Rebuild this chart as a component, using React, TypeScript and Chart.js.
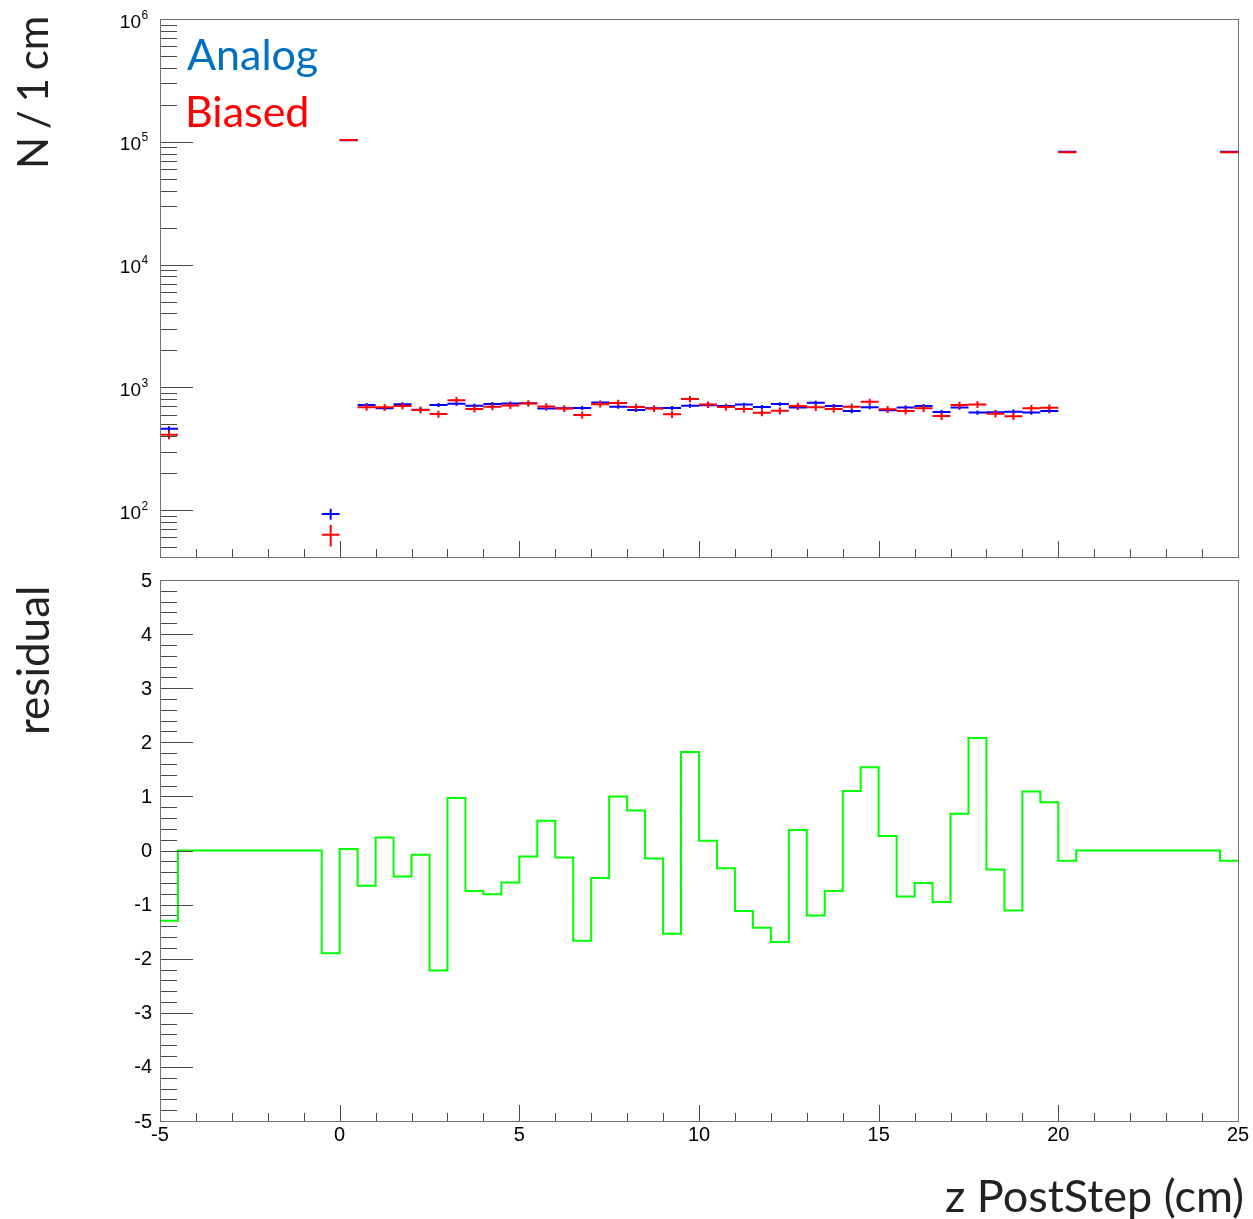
import React, { useEffect, useRef } from "react";
import { Chart, registerables } from "chart.js";

Chart.register(...registerables);

// ---------- data ----------
const BIN_WIDTH = 0.5;

// lower edges of the bins that carry markers in the top panel
const binLow = [
  -5, -0.5, 0, 0.5, 1, 1.5, 2, 2.5, 3, 3.5, 4, 4.5, 5, 5.5, 6, 6.5, 7, 7.5, 8, 8.5, 9, 9.5,
  10, 10.5, 11, 11.5, 12, 12.5, 13, 13.5, 14, 14.5, 15, 15.5, 16, 16.5, 17, 17.5, 18, 18.5,
  19, 19.5, 20, 24.5,
];

const analogCounts = [
  460, 93, 103000, 718, 676, 728, 658, 718, 736, 709, 732, 738, 743, 672, 676, 679, 752, 694,
  654, 676, 679, 708, 716, 705, 723, 692, 730, 684, 750, 705, 641, 688, 650, 685, 705, 630,
  684, 623, 628, 634, 623, 641, 83000, 83000,
];

const analogErrors = [
  21, 9.6, 320, 26.8, 26, 27, 25.7, 26.8, 27.1, 26.6, 27.1, 27.2, 27.3, 25.9, 26, 26.1, 27.4,
  26.3, 25.6, 26, 26.1, 26.6, 26.8, 26.6, 26.9, 26.3, 27, 26.2, 27.4, 26.6, 25.3, 26.2, 25.5,
  26.2, 26.6, 25.1, 26.2, 25, 25.1, 25.2, 25, 25.3, 288, 288,
];

const biasedCounts = [
  410, 63, 103500, 688, 688, 705, 654, 605, 786, 667, 694, 710, 740, 697, 672, 595, 729, 746,
  692, 672, 603, 803, 723, 690, 667, 622, 645, 704, 687, 665, 694, 762, 663, 643, 674, 584,
  718, 725, 610, 582, 675, 682, 82000, 82000,
];

const biasedErrors = [
  32, 12.5, 330, 44, 44, 45, 43, 41, 47, 43, 44, 44, 45, 44, 43, 41, 45, 46, 44, 43, 41, 47,
  45, 44, 43, 42, 43, 44, 44, 43, 44, 46, 43, 43, 44, 41, 45, 45, 42, 41, 44, 44, 290, 290,
];

// residual per 0.5 cm bin, from -5 to 25 (60 bins)
const residualValues = [
  -1.3, 0, 0, 0, 0, 0, 0, 0, 0, -1.9,
  0.03, -0.65, 0.24, -0.48, -0.08, -2.22, 0.97, -0.75, -0.81, -0.59,
  -0.11, 0.55, -0.13, -1.67, -0.51, 1.0, 0.74, -0.15, -1.54, 1.82,
  0.18, -0.33, -1.12, -1.43, -1.69, 0.38, -1.2, -0.75, 1.1, 1.54,
  0.27, -0.85, -0.6, -0.95, 0.68, 2.08, -0.35, -1.11, 1.09, 0.89,
  -0.19, 0, 0, 0, 0, 0, 0, 0, 0, -0.19,
];

const X_MIN = -5;
const X_MAX = 25;
const xTickValues = [-5, 0, 5, 10, 15, 20, 25];
const xTickLabels = ["-5", "0", "5", "10", "15", "20", "25"];
const logExponents = [2, 3, 4, 5, 6];
const residualTickValues = [5, 4, 3, 2, 1, 0, -1, -2, -3, -4, -5];
const residualTickLabels = ["5", "4", "3", "2", "1", "0", "-1", "-2", "-3", "-4", "-5"];

// ---------- styles ----------
const FRAME = "#707070";
const TICK = "#4a4a4a";
const LABEL_FONT = '"Liberation Sans", Arial, sans-serif';
const TITLE_FONT = 'Lato, "Open Sans", sans-serif';

const crisp = (v: number) => Math.round(v) + 0.5;

const rootAxes = {
  id: "rootAxes",
  afterDatasetsDraw(chart: any, _args: any, opts: any) {
    const { ctx, chartArea: a } = chart;
    const x = chart.scales.x;
    const y = chart.scales.y;
    ctx.save();
    ctx.lineWidth = 1;
    ctx.strokeStyle = TICK;
    ctx.beginPath();
    // x ticks (inside, from the bottom axis)
    for (let v = X_MIN; v <= X_MAX; v += 1) {
      const px = crisp(x.getPixelForValue(v));
      const len = v % 5 === 0 ? 16 : 8;
      ctx.moveTo(px, a.bottom);
      ctx.lineTo(px, a.bottom - len);
    }
    // y ticks (inside, from the left axis)
    if (opts.log) {
      for (const e of [1, 2, 3, 4, 5]) {
        for (let m = 2; m <= 9; m++) {
          const v = m * Math.pow(10, e);
          if (v < y.min || v > y.max) continue;
          const py = crisp(y.getPixelForValue(v));
          ctx.moveTo(a.left, py);
          ctx.lineTo(a.left + 17, py);
        }
      }
      for (const e of logExponents) {
        const py = crisp(y.getPixelForValue(Math.pow(10, e)));
        ctx.moveTo(a.left, py);
        ctx.lineTo(a.left + 33, py);
      }
    } else {
      for (let k = -25; k <= 25; k++) {
        const v = k / 5;
        const py = crisp(y.getPixelForValue(v));
        const len = k % 5 === 0 ? 33 : 17;
        ctx.moveTo(a.left, py);
        ctx.lineTo(a.left + len, py);
      }
    }
    ctx.stroke();

    // frame
    ctx.strokeStyle = FRAME;
    const l = Math.round(a.left), t = Math.round(a.top), r = Math.round(a.right), b = Math.round(a.bottom);
    ctx.strokeRect(l + 0.5, t + 0.5, r - l, b - t);

    // labels
    ctx.fillStyle = "#000";
    if (opts.log) {
      for (const e of logExponents) {
        const py = y.getPixelForValue(Math.pow(10, e));
        ctx.font = `19px ${LABEL_FONT}`;
        ctx.textAlign = "right";
        ctx.textBaseline = "alphabetic";
        ctx.fillText("10", a.left - 19, py + 8.5);
        ctx.font = `12px ${LABEL_FONT}`;
        ctx.textAlign = "left";
        ctx.fillText(String(e), a.left - 18.5, py - 0.5);
      }
    } else {
      ctx.font = `20px ${LABEL_FONT}`;
      ctx.textAlign = "right";
      ctx.textBaseline = "middle";
      residualTickValues.forEach((v, i) => {
        ctx.fillText(residualTickLabels[i], a.left - 8, y.getPixelForValue(v) + 1);
      });
    }
    if (opts.xLabels) {
      ctx.font = `20px ${LABEL_FONT}`;
      ctx.textAlign = "center";
      ctx.textBaseline = "top";
      xTickValues.forEach((v, i) => {
        ctx.fillText(xTickLabels[i], x.getPixelForValue(v), a.bottom + 4);
      });
    }
    ctx.restore();
  },
};

const errorCross = {
  id: "errorCross",
  afterDatasetsDraw(chart: any) {
    const { ctx } = chart;
    const x = chart.scales.x;
    const y = chart.scales.y;
    ctx.save();
    chart.data.datasets.forEach((ds: any, di: number) => {
      if (!ds.errors) return;
      const meta = chart.getDatasetMeta(di);
      ctx.strokeStyle = ds.borderColor;
      ctx.lineWidth = 2;
      ctx.beginPath();
      ds.data.forEach((p: any, i: number) => {
        const xl = x.getPixelForValue(p.x - BIN_WIDTH / 2);
        const xr = x.getPixelForValue(p.x + BIN_WIDTH / 2);
        const pt = meta.data[i];
        const px = pt.x;
        const py = pt.y;
        ctx.moveTo(xl, py);
        ctx.lineTo(xr, py);
        const err = ds.errors[i];
        const lo = Math.max(p.y - err, y.min);
        ctx.moveTo(px, y.getPixelForValue(p.y + err));
        ctx.lineTo(px, y.getPixelForValue(lo));
      });
      ctx.stroke();
    });
    ctx.restore();
  },
};

export default function App() {
  const topRef = useRef<HTMLCanvasElement | null>(null);
  const botRef = useRef<HTMLCanvasElement | null>(null);

  useEffect(() => {
    const top = new Chart(topRef.current as HTMLCanvasElement, {
      type: "scatter",
      data: {
        datasets: [
          {
            label: "Analog",
            data: binLow.map((lo, i) => ({ x: lo + BIN_WIDTH / 2, y: analogCounts[i] })),
            errors: analogErrors,
            borderColor: "#0000ff",
            backgroundColor: "#0000ff",
            pointRadius: 0,
            showLine: false,
          } as any,
          {
            label: "Biased",
            data: binLow.map((lo, i) => ({ x: lo + BIN_WIDTH / 2, y: biasedCounts[i] })),
            errors: biasedErrors,
            borderColor: "#ff0000",
            backgroundColor: "#ff0000",
            pointRadius: 0,
            showLine: false,
          } as any,
        ],
      },
      options: {
        animation: false,
        responsive: false,
        devicePixelRatio: 1,
        events: [],
        layout: { padding: { left: 160, right: 15, top: 19, bottom: 13 } },
        scales: {
          x: { type: "linear", min: X_MIN, max: X_MAX, display: false },
          y: { type: "logarithmic", min: 41.5, max: 1e6, display: false },
        },
        plugins: {
          legend: { display: false },
          tooltip: { enabled: false },
          rootAxes: { log: true, xLabels: false },
        } as any,
      },
      plugins: [errorCross, rootAxes],
    });

    const resData = residualValues.map((v, i) => ({ x: X_MIN + BIN_WIDTH * i, y: v }));
    resData.push({ x: X_MAX, y: residualValues[residualValues.length - 1] });

    const bot = new Chart(botRef.current as HTMLCanvasElement, {
      type: "line",
      data: {
        datasets: [
          {
            label: "residual",
            data: resData,
            borderColor: "#00ff00",
            borderWidth: 2,
            pointRadius: 0,
            stepped: "before",
            fill: false,
          },
        ],
      },
      options: {
        animation: false,
        responsive: false,
        devicePixelRatio: 1,
        events: [],
        layout: { padding: { left: 160, right: 15, top: 10, bottom: 98 } },
        scales: {
          x: { type: "linear", min: X_MIN, max: X_MAX, display: false },
          y: { type: "linear", min: -5, max: 5, display: false },
        },
        plugins: {
          legend: { display: false },
          tooltip: { enabled: false },
          rootAxes: { log: false, xLabels: true },
        } as any,
      },
      plugins: [rootAxes],
    });

    return () => {
      top.destroy();
      bot.destroy();
    };
  }, []);

  const title: React.CSSProperties = {
    position: "absolute",
    font: `44px ${TITLE_FONT}`,
    lineHeight: "44px",
    color: "#222",
    whiteSpace: "nowrap",
  };

  return (
    <div style={{ position: "absolute", left: 0, top: 0, width: 1253, height: 1219, background: "#fff" }}>
      <canvas ref={topRef} width={1253} height={570} style={{ position: "absolute", left: 0, top: 0, width: 1253, height: 570 }} />
      <canvas ref={botRef} width={1253} height={649} style={{ position: "absolute", left: 0, top: 570, width: 1253, height: 649 }} />
      <div style={{ ...title, left: 11, top: 169, fontSize: 42, lineHeight: "42px", wordSpacing: -3, transform: "rotate(-90deg)", transformOrigin: "0 0" }}>N / 1 cm</div>
      <div style={{ ...title, left: 10, top: 735, transform: "rotate(-90deg)", transformOrigin: "0 0" }}>residual</div>
      <div style={{ ...title, left: 945, top: 1173, fontSize: 45, lineHeight: "45px" }}>z PostStep (cm)</div>
      <div style={{ ...title, left: 187, top: 32, fontSize: 43, lineHeight: "43px", color: "#0070c0" }}>Analog</div>
      <div style={{ ...title, left: 185, top: 89, fontSize: 43, lineHeight: "43px", color: "#ff0000" }}>Biased</div>
    </div>
  );
}
